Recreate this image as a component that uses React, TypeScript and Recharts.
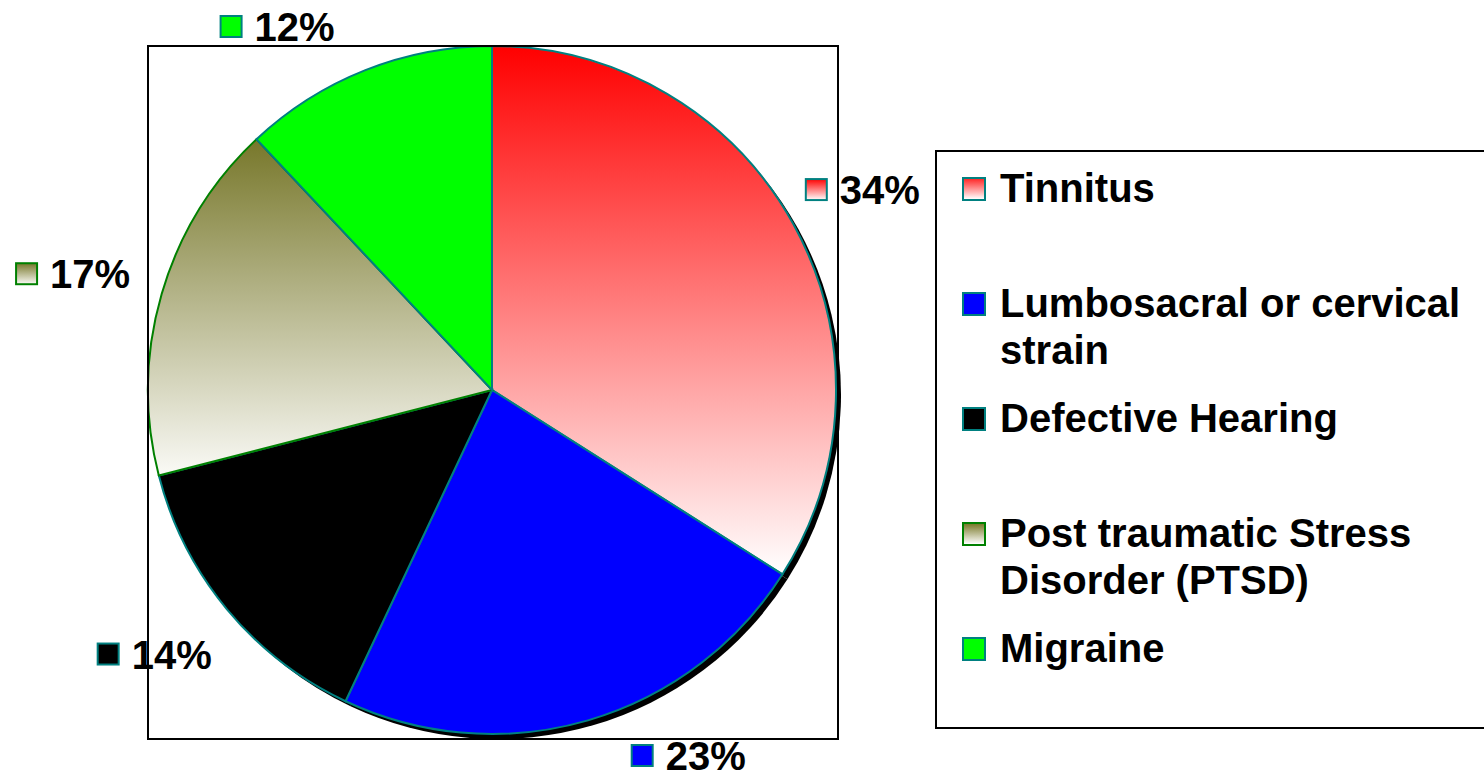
import { PieChart, Pie, Cell, Legend } from 'recharts'

const categories = ['Tinnitus', 'Lumbosacral or cervical strain', 'Defective Hearing',
  'Post traumatic Stress Disorder (PTSD)', 'Migraine']
const shares = [34, 23, 14, 17, 12]

const fills = ['url(#gradTinnitus)', '#0000ff', '#000000', 'url(#gradPtsd)', '#00ff00']
const swatches = ['linear-gradient(#ff2a2a, #ffffff)', '#0000ff', '#000000',
  'linear-gradient(#7a7a2a, #ffffff)', '#00ff00']
const edges = ['#008080', '#008080', '#008080', '#008000', '#008080']

const data = categories.map((name, i) => ({ name, value: shares[i] }))

const CX = 492, CY = 390, R = 344
const RAD = Math.PI / 180
const font = '"Liberation Sans", Arial, sans-serif'

// percentage tags sit on an ellipse round the pie, pushed back inside the picture
function PctLabel(props: any) {
  const { cx, cy, midAngle, index } = props
  const c = Math.cos(-midAngle * RAD), s = Math.sin(-midAngle * RAD)
  const rx = 430, ry = 415
  let dx = rx * c, dy = ry * s
  const top = 27 - cy, bot = 756 - cy
  if (dy < top || dy > bot) {
    dy = Math.max(top, Math.min(bot, dy))
    dx = Math.sign(c) * rx * Math.sqrt(1 - (dy / ry) ** 2)
  }
  const x = cx + dx - 64, y = cy + dy
  return (
    <g>
      <rect x={x + 1} y={y - 11} width={21} height={21} fill={fills[index]}
        stroke={edges[index]} strokeWidth={2} />
      <text x={x + 35} y={y + 14} fontSize={40} fontWeight='bold' fill='#000'
        fontFamily={font}>{shares[index]}%</text>
    </g>
  )
}

function LegendBox() {
  return (
    <div style={{ width: 560, height: 579, border: '2px solid #000', boxSizing: 'border-box',
      position: 'relative', background: '#fff', fontFamily: font }}>
      {categories.map((name, i) => (
        <div key={name} style={{ position: 'absolute', left: 25, top: 13 + i * 115,
          display: 'flex', alignItems: 'flex-start' }}>
          <span style={{ width: 20, height: 20, border: `2px solid ${edges[i]}`, background: swatches[i],
            marginTop: 12, marginRight: 14, flex: 'none' }} />
          <span style={{ width: 478, fontSize: 40, fontWeight: 'bold', lineHeight: '47px',
            color: '#000' }}>{name}</span>
        </div>
      ))}
    </div>
  )
}

export default function App() {
  return (
    <div style={{ position: 'absolute', left: 0, top: 0, width: 1484, height: 779,
      overflow: 'hidden', background: '#fff' }}>
      <PieChart width={1484} height={779} margin={{ top: 0, right: 0, bottom: 0, left: 0 }}>
        <defs>
          <linearGradient id='gradTinnitus' x1='0' y1='0' x2='0' y2='1'>
            <stop offset='0%' stopColor='#ff0000' />
            <stop offset='100%' stopColor='#ffffff' />
          </linearGradient>
          <linearGradient id='gradPtsd' x1='0' y1='0' x2='0' y2='1'>
            <stop offset='0%' stopColor='#77772a' />
            <stop offset='100%' stopColor='#fafaf6' />
          </linearGradient>
        </defs>
        <Pie data={data} dataKey='value' cx={CX + 5} cy={CY + 5} outerRadius={R}
          startAngle={90} endAngle={-270} fill='#000' stroke='none' legendType='none'
          isAnimationActive={false} />
        <Pie data={data} dataKey='value' nameKey='name' cx={CX} cy={CY} outerRadius={R}
          startAngle={90} endAngle={-270} label={PctLabel} labelLine={false}
          isAnimationActive={false}>
          {data.map((d, i) => (
            <Cell key={d.name} fill={fills[i]} stroke={edges[i]} strokeWidth={2} />
          ))}
        </Pie>
        <Legend content={() => <LegendBox />}
          wrapperStyle={{ position: 'absolute', left: 935, top: 150, right: 'auto', bottom: 'auto',
            width: 560, height: 579 }} />
      </PieChart>
      <div style={{ position: 'absolute', left: 147, top: 45, width: 692, height: 695,
        border: '2px solid #000', boxSizing: 'border-box', pointerEvents: 'none' }} />
    </div>
  )
}
